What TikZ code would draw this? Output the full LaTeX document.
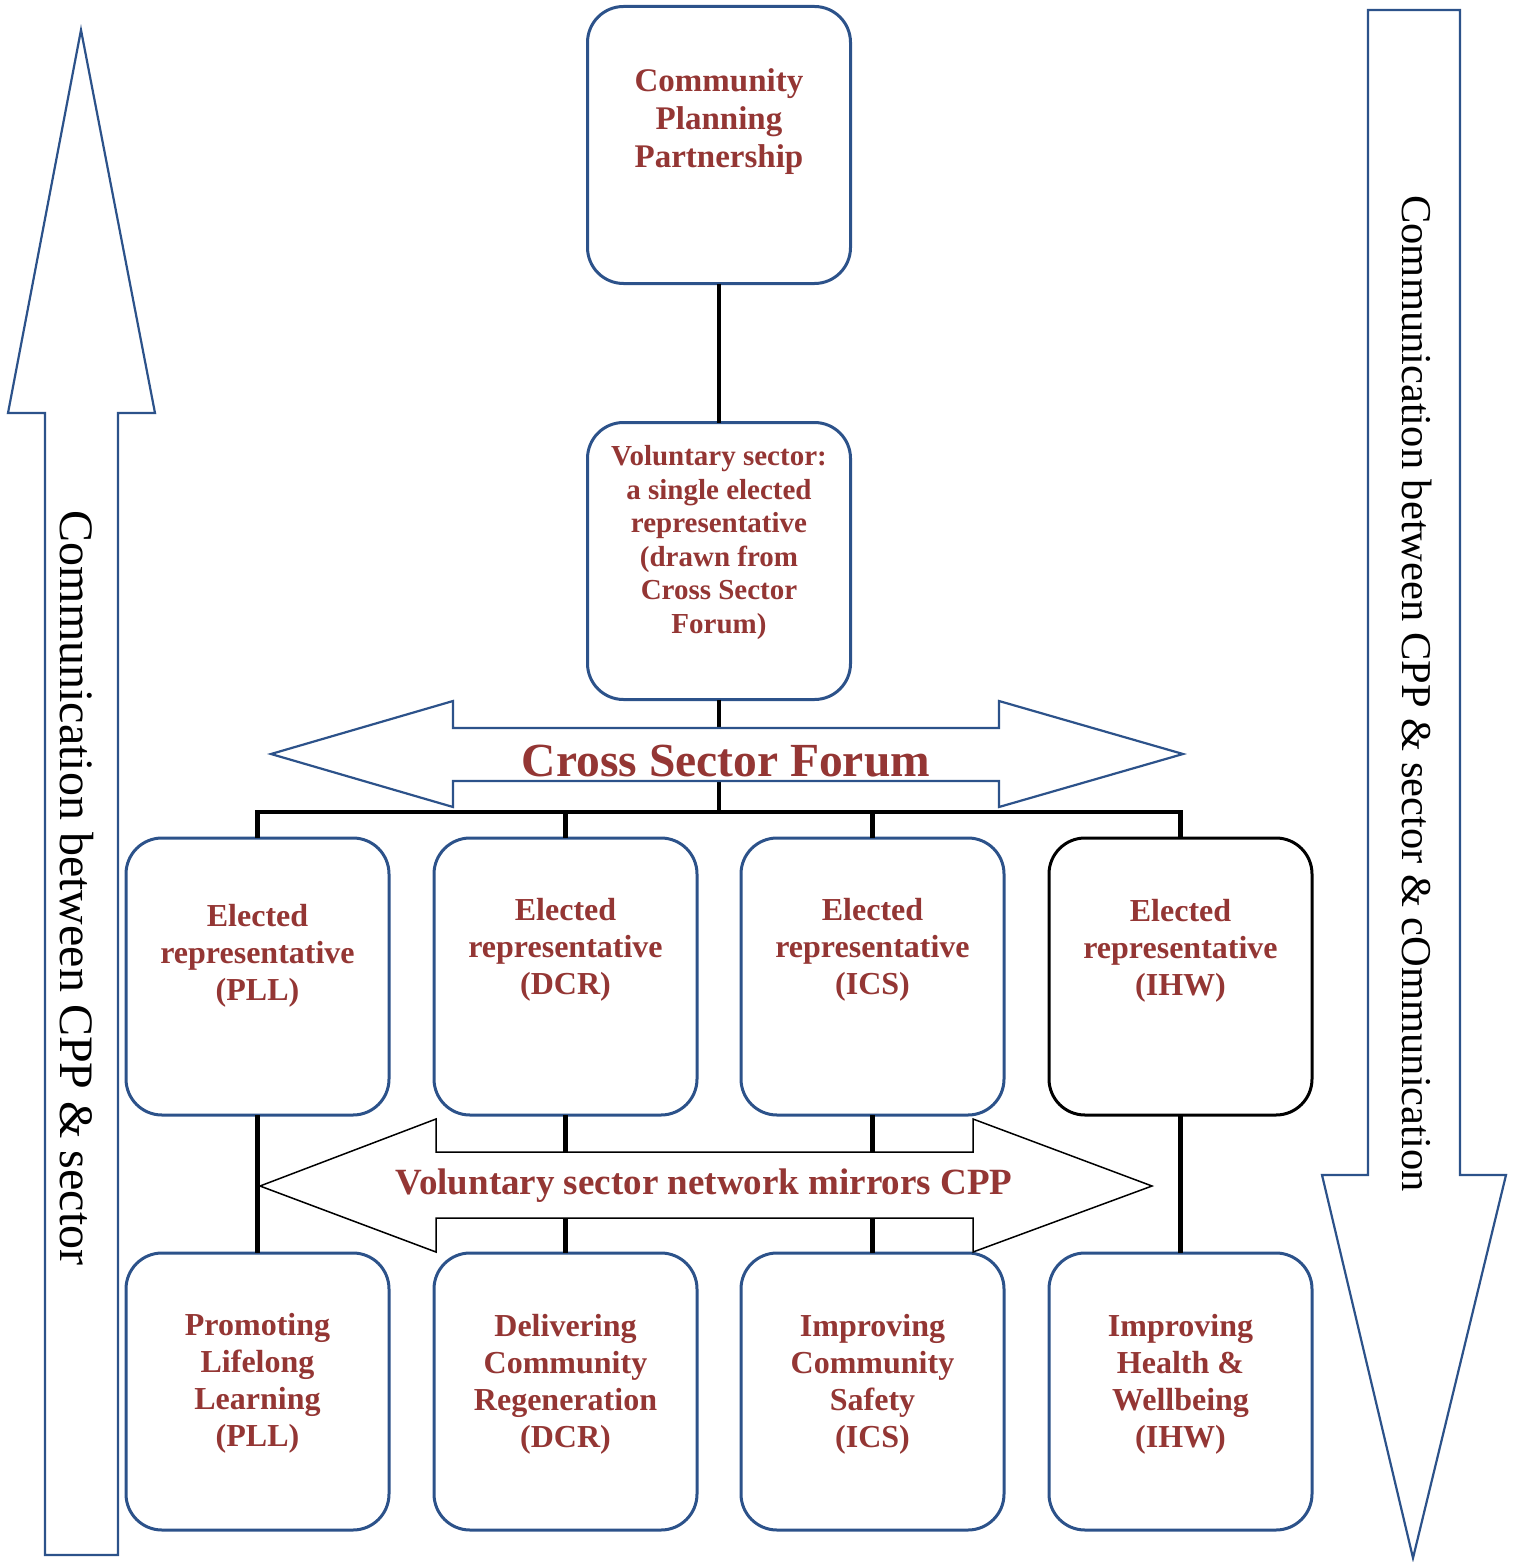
\documentclass[tikz,border=0pt]{standalone}
\usepackage{fontspec}
\setmainfont{Liberation Serif}
\usetikzlibrary{positioning}
\definecolor{boxred}{RGB}{148,54,52}
\definecolor{lineblue}{RGB}{44,82,138}

\begin{document}
\begin{tikzpicture}[x=1pt, y=-1pt,
	box/.style={rectangle, draw=lineblue, line width=3pt, rounded corners=36pt, fill=white, minimum width=263pt, minimum height=277pt, inner sep=0pt, outer sep=0pt},
	txt/.style={align=center, inner sep=0pt, text=boxred, font=\bfseries\fontsize{32}{37}\selectfont},
	link/.style={line width=4.5pt},
	bigarrow/.style={draw=lineblue, line width=2.2pt, fill=white, line join=miter}]
	\useasboundingbox (0,0) rectangle (1517,1562);

	\node[box] (cpp) at (719,145) {};
	\node[box, below=139pt of cpp] (vol) {};
	\node[box] (erpll) at (257.5,976.5) {};
	\node[box, right=45pt of erpll] (erdcr) {};
	\node[box, right=44pt of erdcr] (erics) {};
	\node[box, right=45pt of erics, draw=black] (erihw) {};
	\node[box, below=138pt of erpll] (pll) {};
	\node[box, below=138pt of erdcr] (dcr) {};
	\node[box, below=138pt of erics] (ics) {};
	\node[box, below=138pt of erihw] (ihw) {};

	\node[txt, font=\bfseries\fontsize{33}{38}\selectfont] (cpptext) at ([yshift=23.5pt]cpp.center) {Community \\ Planning \\ Partnership};
	\node[txt, font=\bfseries\fontsize{29}{33.6}\selectfont] (voltext) at ([yshift=18.5pt]vol.center) {Voluntary sector: \\ a single elected \\ representative \\ (drawn from \\ Cross Sector \\ Forum)};
	\node[txt] (erplltext) at ([yshift=21pt]erpll.center) {Elected \\ representative \\ (PLL)};
	\node[txt] (erdcrtext) at ([yshift=27pt]erdcr.center) {Elected \\ representative \\ (DCR)};
	\node[txt] (ericstext) at ([yshift=27pt]erics.center) {Elected \\ representative \\ (ICS)};
	\node[txt] (erihwtext) at ([yshift=26pt]erihw.center) {Elected \\ representative \\ (IHW)};
	\node[txt] (plltext) at ([yshift=8.5pt]pll.center) {Promoting \\ Lifelong \\ Learning \\ (PLL)};
	\node[txt] (dcrtext) at ([yshift=7.5pt]dcr.center) {Delivering \\ Community \\ Regeneration \\ (DCR)};
	\node[txt] (icstext) at ([yshift=7.5pt]ics.center) {Improving \\ Community \\ Safety \\ (ICS)};
	\node[txt] (ihwtext) at ([yshift=7.5pt]ihw.center) {Improving \\ Health \& \\ Wellbeing \\ (IHW)};

	\coordinate (bus) at (719,812);
	\draw[link] (cpp) -- (vol);
	\draw[link] (vol) -- (bus);
	\draw[link] (erpll.north) |- (bus) -| (erihw.north);
	\draw[link] (erdcr.north) -- (erdcr.north |- bus);
	\draw[link] (erics.north) -- (erics.north |- bus);
	\draw[link] (erpll) -- (pll);
	\draw[link] (erdcr) -- (dcr);
	\draw[link] (erics) -- (ics);
	\draw[link] (erihw) -- (ihw);

	\draw[bigarrow] (271,754) -- (453,701) -- (453,728) -- (999,728) -- (999,701) -- (1183,754) -- (999,807) -- (999,781) -- (453,781) -- (453,807) -- cycle;
	\node[anchor=base, inner sep=0pt, text=boxred, font=\bfseries\fontsize{47.5}{47.5}\selectfont] (csf) at (726,776) {Cross Sector Forum};

	\draw[bigarrow, draw=black, line width=1.5pt] (260,1186) -- (436,1119) -- (436,1152) -- (973,1152) -- (973,1119) -- (1152,1186) -- (973,1252) -- (973,1218) -- (436,1218) -- (436,1252) -- cycle;
	\node[anchor=base, inner sep=0pt, text=boxred, font=\bfseries\fontsize{37}{37}\selectfont] (vsn) at (704,1194) {Voluntary sector network mirrors CPP};

	\draw[bigarrow] (45,1555) -- (45,413) -- (8,413) -- (81,30) -- (155,413) -- (118,413) -- (118,1555) -- cycle;
	\node[rotate=-90, anchor=base, inner sep=0pt, font=\fontsize{48}{48}\selectfont] (upcomm) at (60,888) {Communication between CPP \& sector};

	\draw[bigarrow] (1368,10) -- (1460,10) -- (1460,1175) -- (1506,1175) -- (1413,1558) -- (1322,1175) -- (1368,1175) -- cycle;
	\node[rotate=-90, anchor=base, inner sep=0pt, font=\fontsize{42.5}{42.5}\selectfont] (downcomm) at (1402,693.5) {Communication between CPP \& sector \& cOmmunication};
\end{tikzpicture}
\end{document}
